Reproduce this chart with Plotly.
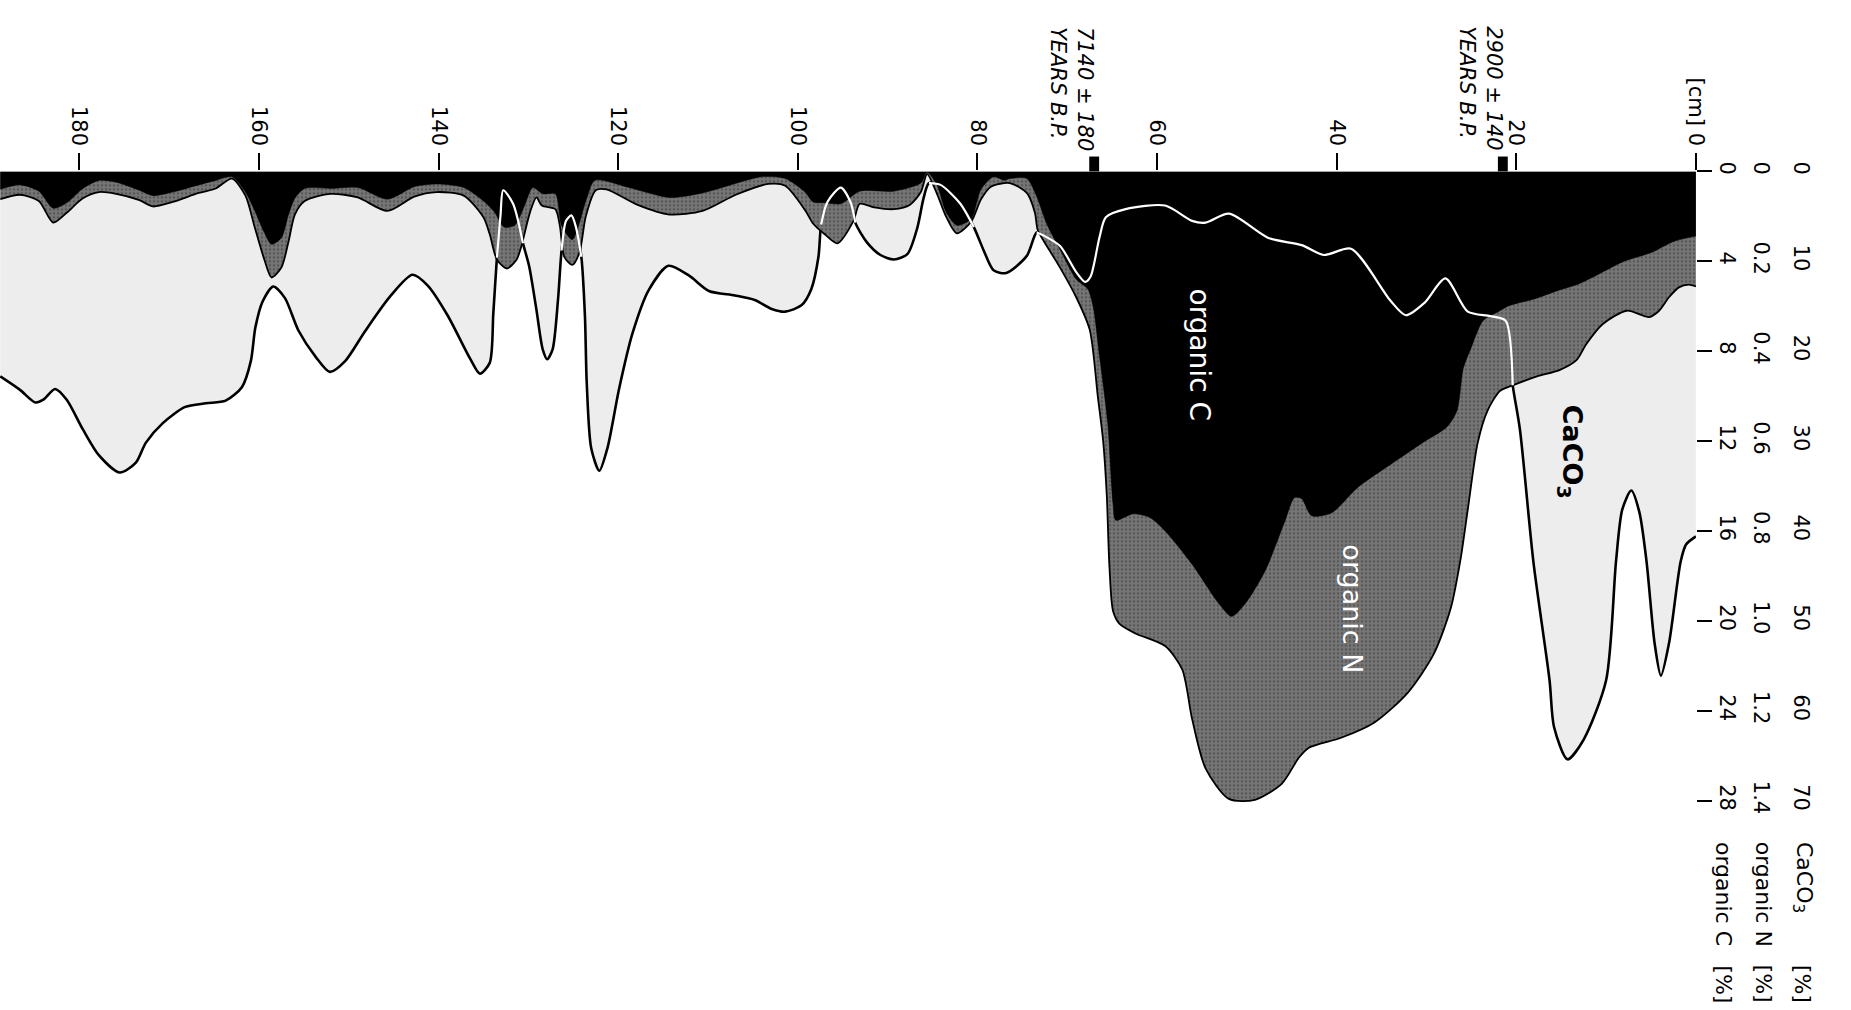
import numpy as np
import plotly.graph_objects as go

# ---------------- data ----------------
# CaCO3 [%] versus depth [cm]
depth_caco3 = [0.0, 1.1, 1.7, 3.0, 3.9, 4.6, 5.5, 6.3, 7.2, 8.2, 8.9, 10.0, 12.5, 14.3, 15.8, 16.3,
               18.1, 19.6, 20.4, 21.2, 22.9, 25.4, 27.9, 30.2, 32.3, 34.0, 38.4, 41.4, 43.9, 47.6,
               52.0, 54.6, 56.1, 59.1, 63.5, 65.7, 66.4, 67.4, 68.0, 69.0, 70.8, 72.7, 73.4, 74.5,
               76.8, 78.2, 79.3, 80.4, 81.9, 84.1, 85.4, 86.0, 86.7, 87.8, 89.3, 90.8, 92.3, 93.6,
               94.1, 95.2, 96.7, 97.4, 97.7, 98.5, 99.6, 101.4, 102.9, 104.8, 107.0, 109.9, 112.1,
               114.4, 116.6, 118.4, 119.9, 121.2, 122.1, 123.0, 123.5, 123.7, 124.1, 124.7, 125.2,
               125.8, 126.3, 126.7, 127.3, 127.9, 128.4, 129.1, 129.9, 130.6, 131.7, 132.8, 133.1,
               133.5, 133.9, 134.3, 135.4, 136.5, 139.0, 141.2, 142.9, 145.3, 148.2, 150.4, 152.1,
               153.7, 155.6, 157.1, 158.4, 159.6, 160.4, 160.9, 161.9, 163.7, 165.9, 168.2, 170.7,
               172.6, 173.7, 175.5, 177.8, 179.6, 181.4, 182.7, 184.0, 184.9, 186.6, 188.8]
caco3 = [40.6, 41.5, 43.4, 52.5, 56.1, 52.5, 43.4, 37.9, 35.5, 37.6, 43.4, 56.6, 63.2, 65.4, 61.8, 56.6,
         43.4, 28.7, 23.8, 16.6, 16.1, 15.6, 11.9, 14.6, 16.0, 14.4, 8.6, 9.3, 8.2, 7.4,
         4.7, 5.7, 5.5, 3.8, 4.2, 5.1, 7.3, 11.7, 12.3, 11.2, 8.3, 7.1, 6.8, 9.4,
         11.3, 11.0, 8.8, 6.2, 3.6, 1.5, 1.3, 3.0, 6.3, 9.2, 9.8, 9.3, 7.9, 5.7,
         3.5, 1.8, 3.4, 5.9, 9.5, 13.1, 14.9, 15.6, 15.3, 14.3, 13.8, 13.3, 11.6,
         10.5, 13.2, 18.0, 24.2, 30.8, 33.3, 30.8, 23.5, 16.1, 9.5, 6.2, 4.9,
         5.5, 8.8, 14.3, 19.8, 20.9, 19.8, 15.4, 10.6, 8.0, 3.6, 2.1, 4.9,
         9.6, 15.8, 21.3, 22.5, 20.8, 16.0, 12.7, 11.5, 13.8, 17.8, 21.1, 22.3,
         20.6, 17.7, 14.1, 12.8, 14.5, 17.4, 21.1, 24.0, 25.5, 25.8, 26.2, 28.0,
         30.2, 32.4, 33.5, 31.6, 28.7, 25.4, 24.2, 25.4, 25.7, 24.3, 22.8]

# organic N [%] versus depth [cm]
depth_n = [0.0, 0.8, 1.9, 3.0, 4.1, 5.2, 7.7, 10.4, 12.2, 13.3, 15.2, 17.7, 20.4, 21.8, 23.2, 24.3,
           25.4, 26.2, 27.3, 29.2, 32.1, 35.8, 39.5, 43.1, 44.2, 46.1, 49.1, 52.0, 54.6, 56.1,
           57.2, 59.1, 62.4, 64.2, 64.9, 65.3, 65.6, 66.0, 66.6, 67.5, 69.0, 70.8, 72.7, 73.3,
           73.6, 74.5, 76.4, 78.5, 79.6, 80.7, 82.3, 83.5, 84.5, 85.6, 86.3, 87.5, 89.3, 91.5,
           93.1, 93.8, 95.6, 97.0, 98.3, 99.2, 101.4, 103.3, 106.9, 110.6, 114.3, 117.9, 121.3,
           122.5, 123.6, 124.3, 125.1, 126.0, 126.5, 127.0, 128.5, 129.1, 129.8, 130.8, 131.3,
           132.4, 133.5, 134.3, 135.0, 137.2, 140.2, 142.7, 145.7, 149.0, 152.0, 154.9, 156.0,
           156.7, 157.5, 158.6, 159.4, 160.5, 161.5, 163.0, 164.8, 166.7, 169.6, 171.8, 173.3,
           175.9, 177.8, 179.6, 181.4, 182.9, 184.5, 186.6, 188.8]
org_n = [0.256, 0.252, 0.258, 0.28, 0.31, 0.324, 0.31, 0.34, 0.384, 0.42, 0.442, 0.456, 0.476, 0.488, 0.532, 0.604,
         0.752, 0.862, 0.972, 1.074, 1.16, 1.226, 1.26, 1.282, 1.304, 1.362, 1.398, 1.396, 1.328, 1.218,
         1.108, 1.056, 1.028, 1.006, 0.978, 0.88, 0.72, 0.60, 0.50, 0.352, 0.28, 0.214, 0.152, 0.13,
         0.092, 0.048, 0.026, 0.034, 0.062, 0.112, 0.138, 0.10, 0.05, 0.006, 0.046, 0.074, 0.084, 0.08,
         0.072, 0.11, 0.16, 0.14, 0.116, 0.086, 0.032, 0.028, 0.052, 0.088, 0.096, 0.074, 0.04,
         0.042, 0.10, 0.18, 0.208, 0.19, 0.12, 0.084, 0.076, 0.058, 0.09, 0.168, 0.196,
         0.216, 0.196, 0.14, 0.102, 0.054, 0.046, 0.056, 0.088, 0.058, 0.05, 0.066, 0.096,
         0.156, 0.214, 0.236, 0.196, 0.122, 0.054, 0.016, 0.038, 0.048, 0.068, 0.078, 0.064,
         0.05, 0.046, 0.06, 0.092, 0.114, 0.066, 0.052, 0.062]

# organic C [%] versus depth [cm]
depth_c = [0.0, 2.5, 4.9, 8.0, 10.0, 13.0, 15.5, 18.0, 20.7, 22.0, 23.7, 25.1, 25.9, 26.6, 27.7, 30.3,
           34.0, 37.6, 40.6, 42.8, 43.9, 44.7, 45.8, 48.0, 50.2, 51.7, 53.1, 56.1, 59.1, 60.8,
           62.7, 64.6, 64.9, 65.5, 66.4, 67.1, 67.7, 69.0, 70.8, 72.3, 73.4, 74.5, 76.4, 77.0,
           78.2, 79.6, 80.7, 82.3, 83.5, 84.5, 85.6, 86.3, 89.3, 93.1, 95.2, 97.0, 98.3, 99.2,
           101.4, 104.0, 110.6, 114.3, 118.8, 122.6, 123.5, 125.1, 126.3, 127.0, 128.4, 129.5,
           130.5, 131.5, 132.7, 133.8, 135.0, 137.2, 140.2, 142.7, 145.7, 149.0, 152.0, 154.9,
           156.0, 156.7, 157.5, 158.6, 159.4, 160.5, 161.5, 163.0, 164.8, 166.7, 169.6, 171.8,
           173.3, 175.9, 177.8, 179.6, 181.4, 182.9, 184.5, 186.6, 188.8]
org_c = [2.88, 3.12, 3.6, 4.0, 4.4, 5.0, 5.32, 5.68, 5.96, 6.24, 6.64, 7.92, 8.76, 10.64, 11.36, 12.04,
         13.04, 14.04, 15.2, 15.32, 14.56, 14.52, 15.6, 17.8, 19.24, 19.8, 19.24, 17.48, 16.0, 15.4,
         15.24, 15.52, 14.8, 11.16, 8.24, 6.04, 5.24, 4.8, 3.48, 2.32, 1.12, 0.32, 0.32, 0.4,
         0.24, 0.8, 2.12, 2.4, 1.8, 0.6, 0.04, 0.52, 0.88, 0.88, 1.44, 1.4, 1.36, 0.92,
         0.32, 0.24, 0.96, 1.16, 0.72, 0.4, 1.2, 3.04, 2.4, 1.0, 1.0, 0.72,
         1.6, 2.4, 2.48, 1.8, 1.32, 0.72, 0.56, 0.68, 1.24, 0.72, 0.76, 0.76,
         1.2, 1.92, 2.96, 3.24, 2.72, 1.72, 0.92, 0.24, 0.4, 0.6, 0.92, 1.08,
         0.84, 0.48, 0.4, 0.76, 1.4, 1.64, 0.88, 0.6, 0.8]

# axes / tick labels
depth_ticks = [0, 20, 40, 60, 80, 100, 120, 140, 160, 180]
depth_ticktext = ["[cm] 0", "20", "40", "60", "80", "100", "120", "140", "160", "180"]
caco3_ticks = [0, 10, 20, 30, 40, 50, 60, 70]
n_ticks = [0, 0.2, 0.4, 0.6, 0.8, 1.0, 1.2, 1.4]
n_ticktext = ["0", "0.2", "0.4", "0.6", "0.8", "1.0", "1.2", "1.4"]
c_ticks = [0, 4, 8, 12, 16, 20, 24, 28]

# radiocarbon dates
date_depths = [21.5, 67.0]
date_labels = ["2900 ± 140", "7140 ± 180"]

# ---------------- layout geometry ----------------
W, H = 1851, 1010
PLOT_RIGHT = 1707          # px of depth 0
AXIS_TOP = 163             # px of value 0
PX_PER_CM = 9.04
PX_PER_PCT = 9.08          # px per 1 % CaCO3
N_PER_CACO3 = 1.4 / 70
C_PER_CACO3 = 28 / 70

depth_max = PLOT_RIGHT / PX_PER_CM
caco3_max = (H - AXIS_TOP) / PX_PER_PCT
ydom = [0, 1 - AXIS_TOP / H]
FONT = "DejaVu Sans"
SMOOTH = 0.75

fig = go.Figure()

# CaCO3 area (light) with black outline
fig.add_trace(go.Scatter(x=depth_caco3, y=caco3, mode="lines", fill="tozeroy",
                         fillcolor="#ededed",
                         line=dict(color="black", width=2.6, shape="spline", smoothing=SMOOTH),
                         xaxis="x", yaxis="y", hoverinfo="skip", showlegend=False))
# organic N area (stippled grey)
fig.add_trace(go.Scatter(x=depth_n, y=org_n, mode="lines", fill="tozeroy",
                         fillcolor="#6e6e6e",
                         fillpattern=dict(shape=".", bgcolor="#777777", fgcolor="#383838",
                                          size=4, solidity=0.35),
                         line=dict(color="black", width=1.8, shape="spline", smoothing=SMOOTH),
                         xaxis="x", yaxis="y2", hoverinfo="skip", showlegend=False))
# organic C area (black)
fig.add_trace(go.Scatter(x=depth_c, y=org_c, mode="lines", fill="tozeroy",
                         fillcolor="black",
                         line=dict(color="black", width=0.5, shape="spline", smoothing=SMOOTH),
                         xaxis="x", yaxis="y3", hoverinfo="skip", showlegend=False))

# CaCO3 curve drawn white where it runs through the dark (N / C) areas
cd = np.array(depth_caco3, float)
cv = np.array(caco3, float)
md = (cd[:-1] + cd[1:]) / 2
mv = (cv[:-1] + cv[1:]) / 2
dark = np.maximum(np.interp(md, depth_n, np.array(org_n) / N_PER_CACO3),
                  np.interp(md, depth_c, np.array(org_c) / C_PER_CACO3))
inside = mv < dark
runs = []
i = 0
while i < len(inside):
    if inside[i]:
        j = i
        while j + 1 < len(inside) and inside[j + 1]:
            j += 1
        runs.append((i, j + 1))
        i = j + 1
    else:
        i += 1
for a, b in runs:
    fig.add_trace(go.Scatter(x=cd[a:b + 1], y=cv[a:b + 1], mode="lines",
                             line=dict(color="white", width=2.2, shape="spline", smoothing=SMOOTH),
                             xaxis="x", yaxis="y4", hoverinfo="skip", showlegend=False))

tickfont = dict(family=FONT, size=21, color="black")

fig.update_layout(
    width=W, height=H, margin=dict(l=0, r=0, t=0, b=0, pad=0),
    paper_bgcolor="white", plot_bgcolor="rgba(0,0,0,0)", showlegend=False,
    xaxis=dict(domain=[0, PLOT_RIGHT / W], range=[depth_max, 0], side="top", anchor="y",
               tickmode="array", tickvals=depth_ticks, ticktext=depth_ticktext, tickangle=90,
               ticks="outside", ticklen=17, tickwidth=2, tickcolor="black",
               tickfont=dict(family=FONT, size=21, color="black"),
               showgrid=False, zeroline=False, showline=False),
    yaxis=dict(domain=ydom, range=[caco3_max, 0], anchor="free", position=1800 / W, side="right",
               tickmode="array", tickvals=caco3_ticks, tickangle=90, ticks="",
               tickfont=tickfont, showgrid=False, zeroline=False, showline=False),
    yaxis2=dict(domain=ydom, range=[caco3_max * N_PER_CACO3, 0], overlaying="y", anchor="free",
                position=1760 / W, side="right", tickmode="array", tickvals=n_ticks,
                ticktext=n_ticktext, tickangle=90, ticks="", tickfont=tickfont,
                showgrid=False, zeroline=False, showline=False),
    yaxis3=dict(domain=ydom, range=[caco3_max * C_PER_CACO3, 0], overlaying="y", anchor="x",
                side="right", tickmode="array", tickvals=c_ticks, tickangle=90,
                ticks="outside", ticklen=15, tickwidth=2, tickcolor="black", tickfont=tickfont,
                showgrid=False, zeroline=False, showline=False),
    yaxis4=dict(domain=ydom, range=[caco3_max, 0], overlaying="y", visible=False),
)

# radiocarbon date markers and labels
for d, lab in zip(date_depths, date_labels):
    fig.add_shape(type="rect", xref="x", yref="paper", x0=d - 0.55, x1=d + 0.55,
                  y0=1 - AXIS_TOP / H, y1=1 - (AXIS_TOP - 15) / H,
                  fillcolor="black", line=dict(width=0), layer="above")
    fig.add_annotation(x=d, xref="x", y=1 - (AXIS_TOP - 19) / H, yref="paper",
                       text="<i>" + lab + "<br>YEARS B.P.</i>", textangle=90, showarrow=False,
                       xanchor="right", yanchor="bottom", xshift=5, align="left",
                       font=dict(family=FONT, size=21, color="black"))

# axis titles (bottom right)
titles = [("CaCO<sub>3</sub>", 1815), ("organic N", 1775), ("organic C", 1735)]
for txt, xp in titles:
    fig.add_annotation(x=xp / W, xref="paper", y=1 - 838 / H, yref="paper", text=txt,
                       textangle=90, showarrow=False, xanchor="center", yanchor="top",
                       font=dict(family=FONT, size=22, color="black"))
    fig.add_annotation(x=xp / W, xref="paper", y=1 - 1005 / H, yref="paper", text="[%]",
                       textangle=90, showarrow=False, xanchor="center", yanchor="bottom",
                       font=dict(family=FONT, size=22, color="black"))

# in-plot labels
fig.add_annotation(x=55.3, y=20.4, xref="x", yref="y", text="organic C", textangle=90,
                   showarrow=False, font=dict(family=FONT, size=28, color="white"))
fig.add_annotation(x=38.2, y=48.7, xref="x", yref="y", text="organic N", textangle=90,
                   showarrow=False, font=dict(family=FONT, size=27, color="white"))
fig.add_annotation(x=14.0, y=31.2, xref="x", yref="y", text="<b>CaCO<sub>3</sub></b>",
                   textangle=90, showarrow=False, font=dict(family=FONT, size=27, color="black"))

fig.write_html("out.html", config={"displayModeBar": False},
               post_script="document.body.style.margin='0';document.body.style.overflow='hidden';")
